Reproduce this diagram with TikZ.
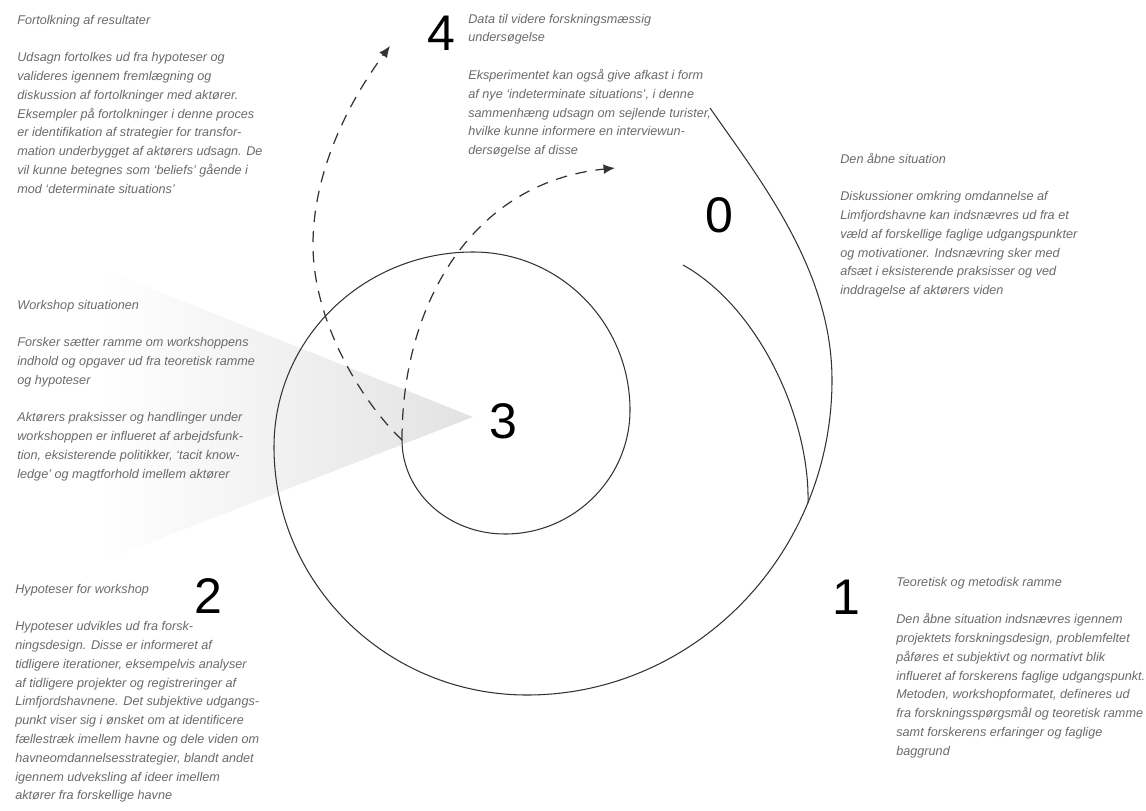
\documentclass[tikz,border=0pt]{standalone}
\usepackage{fontspec}
\setmainfont{Liberation Sans}
\usetikzlibrary{arrows.meta}
\definecolor{ink1}{HTML}{333333}
\definecolor{text1}{HTML}{6A6A6A}
\definecolor{shade1}{HTML}{E2E2E2}

\begin{document}
\begin{tikzpicture}[
    x=0.02cm, y=-0.02cm,
    note/.style={anchor=north west, inner sep=0pt, align=left, text=text1,
                 font=\itshape\fontsize{7.2}{10.7}\selectfont,
                 execute at begin node=\rule{0pt}{7pt}},
    num/.style={inner sep=0pt, font=\fontsize{28.5}{30}\selectfont},
    loop/.style={draw=ink1, line width=0.6pt},
    flow/.style={draw=ink1, line width=0.7pt, dash pattern=on 6.5pt off 5pt,
                 -{Latex[length=6.5pt,width=5.5pt]}},
]
\useasboundingbox (0,0) rectangle (1146,811);
\shade[left color=white, right color=shade1] (100,268) -- (473,417) -- (100,562) -- cycle;

\coordinate (start) at (402,440);
\coordinate (outer) at (710,108);
\coordinate (join) at (808,503);
\coordinate (tipA) at (390,46);
\coordinate (tipB) at (615,168);

\draw[loop] (start) .. controls (402,492) and (448,534) .. (505,534)
    .. controls (574,534) and (630,478) .. (630,410)
    .. controls (630,323) and (560,252) .. (473,252)
    .. controls (363,252) and (274,339) .. (274,447)
    .. controls (274,584) and (387,695) .. (527,695)
    .. controls (695,695) and (832,554) .. (832,380)
    .. controls (832,270) and (760,180) .. (outer);
\draw[loop] (683,265) .. controls (760,308) and (810,420) .. (join);

\draw[flow] (start) .. controls (360,400) and (313,320) .. (313,245)
    .. controls (313,170) and (350,100) .. (tipA);
\draw[flow] (start) .. controls (402,300) and (475,182) .. (tipB);

\node[num] (n0) at (719,215) {0};
\node[num] (n1) at (846,597) {1};
\node[num] (n2) at (208,596) {2};
\node[num] (n3) at (503,421) {3};
\node[num] (n4) at (441,33) {4};

\node[note] (fortolk) at (17,14.6)
    {Fortolkning af resultater\\[10.7pt]
     Udsagn fortolkes ud fra hypoteser og\\
     valideres igennem fremlægning og\\
     diskussion af fortolkninger med aktører.\\
     Eksempler på fortolkninger i denne proces\\
     er identifikation af strategier for transfor-\\
     mation underbygget af aktørers udsagn. De\\
     vil kunne betegnes som ‘beliefs’ gående i\\
     mod ‘determinate situations’};
\node[note] (data) at (468,13.6)
    {Data til videre forskningsmæssig\\
     undersøgelse\\[10.7pt]
     Eksperimentet kan også give afkast i form\\
     af nye ‘indeterminate situations’, i denne\\
     sammenhæng udsagn om sejlende turister,\\
     hvilke kunne informere en interviewun-\\
     dersøgelse af disse};
\node[note] (aabne) at (840,152.6)
    {Den åbne situation\\[10.7pt]
     Diskussioner omkring omdannelse af\\
     Limfjordshavne kan indsnævres ud fra et\\
     væld af forskellige faglige udgangspunkter\\
     og motivationer. Indsnævring sker med\\
     afsæt i eksisterende praksisser og ved\\
     inddragelse af aktørers viden};
\node[note] (workshop) at (17,299.6)
    {Workshop situationen\\[10.7pt]
     Forsker sætter ramme om workshoppens\\
     indhold og opgaver ud fra teoretisk ramme\\
     og hypoteser\\[10.7pt]
     Aktørers praksisser og handlinger under\\
     workshoppen er influeret af arbejdsfunk-\\
     tion, eksisterende politikker, ‘tacit know-\\
     ledge’ og magtforhold imellem aktører};
\node[note] (hypo) at (15,583.6)
    {Hypoteser for workshop\\[10.7pt]
     Hypoteser udvikles ud fra forsk-\\
     ningsdesign. Disse er informeret af\\
     tidligere iterationer, eksempelvis analyser\\
     af tidligere projekter og registreringer af\\
     Limfjordshavnene. Det subjektive udgangs-\\
     punkt viser sig i ønsket om at identificere\\
     fællestræk imellem havne og dele viden om\\
     havneomdannelsesstrategier, blandt andet\\
     igennem udveksling af ideer imellem\\
     aktører fra forskellige havne};
\node[note] (teori) at (896,576.6)
    {Teoretisk og metodisk ramme\\[10.7pt]
     Den åbne situation indsnævres igennem\\
     projektets forskningsdesign, problemfeltet\\
     påføres et subjektivt og normativt blik\\
     influeret af forskerens faglige udgangspunkt.\\
     Metoden, workshopformatet, defineres ud\\
     fra forskningsspørgsmål og teoretisk ramme\\
     samt forskerens erfaringer og faglige\\
     baggrund};
\end{tikzpicture}
\end{document}
